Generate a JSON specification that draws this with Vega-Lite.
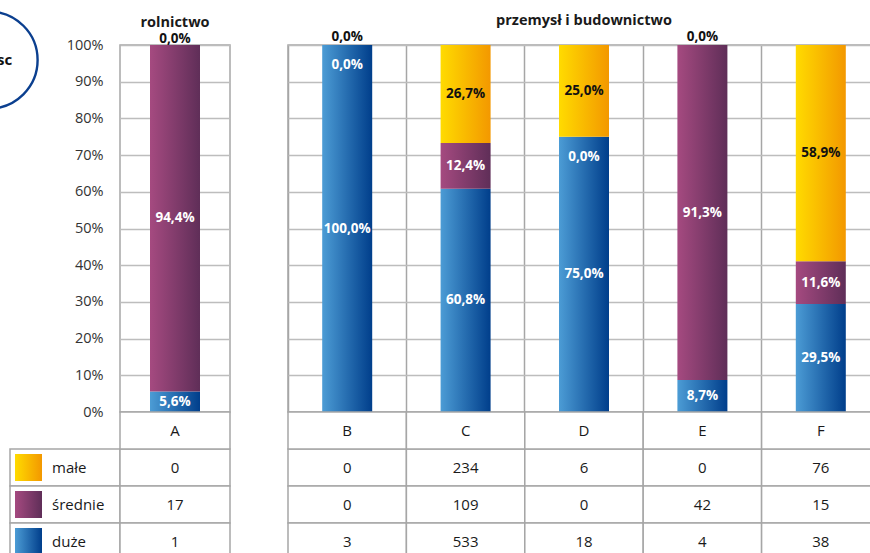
{
  "$schema": "https://vega.github.io/schema/vega-lite/v6.json",
  "autosize": {"type": "none"},
  "padding": {"left": 10, "top": 45, "right": 860, "bottom": 508},
  "background": "white",
  "config": {
    "view": {"stroke": null},
    "font": "Open Sans",
    "locale": {"number": {"decimal": ",", "thousands": " ", "grouping": [3], "currency": ["", " zł"]}}
  },
  "datasets": {
    "d": [
      {"cat": "A", "sector": "rolnictwo", "series": "małe", "n": 0},
      {"cat": "A", "sector": "rolnictwo", "series": "średnie", "n": 17},
      {"cat": "A", "sector": "rolnictwo", "series": "duże", "n": 1},
      {"cat": "B", "sector": "przemysł i budownictwo", "series": "małe", "n": 0},
      {"cat": "B", "sector": "przemysł i budownictwo", "series": "średnie", "n": 0},
      {"cat": "B", "sector": "przemysł i budownictwo", "series": "duże", "n": 3},
      {"cat": "C", "sector": "przemysł i budownictwo", "series": "małe", "n": 234},
      {"cat": "C", "sector": "przemysł i budownictwo", "series": "średnie", "n": 109},
      {"cat": "C", "sector": "przemysł i budownictwo", "series": "duże", "n": 533},
      {"cat": "D", "sector": "przemysł i budownictwo", "series": "małe", "n": 6},
      {"cat": "D", "sector": "przemysł i budownictwo", "series": "średnie", "n": 0},
      {"cat": "D", "sector": "przemysł i budownictwo", "series": "duże", "n": 18},
      {"cat": "E", "sector": "przemysł i budownictwo", "series": "małe", "n": 0},
      {"cat": "E", "sector": "przemysł i budownictwo", "series": "średnie", "n": 42},
      {"cat": "E", "sector": "przemysł i budownictwo", "series": "duże", "n": 4},
      {"cat": "F", "sector": "przemysł i budownictwo", "series": "małe", "n": 76},
      {"cat": "F", "sector": "przemysł i budownictwo", "series": "średnie", "n": 15},
      {"cat": "F", "sector": "przemysł i budownictwo", "series": "duże", "n": 38}
    ]
  },
  "columns": 4,
  "spacing": {"row": 0, "column": 0},
  "bounds": "flush",
  "align": "each",
  "concat": [
    {
      "width": 110,
      "height": 367,
      "data": {"values": [{"t": "sc"}]},
      "layer": [
        {
          "mark": {"type": "point", "shape": "circle", "size": 9409, "filled": false, "stroke": "#0b3f8f", "strokeWidth": 2.4, "opacity": 1},
          "encoding": {
            "x": {"datum": -0.19, "type": "quantitative", "scale": {"domain": [0, 1]}, "axis": null},
            "y": {"datum": 0.959, "type": "quantitative", "scale": {"domain": [0, 1]}, "axis": null}
          }
        },
        {
          "mark": {"type": "text", "align": "right", "baseline": "middle", "fontWeight": "bold", "fontSize": 15, "color": "#111111"},
          "encoding": {
            "x": {"datum": 0.02, "type": "quantitative"},
            "y": {"datum": 0.959, "type": "quantitative"},
            "text": {"field": "t"}
          }
        }
      ]
    },
    {
      "width": 110,
      "height": 367,
      "data": {"name": "d"},
      "view": {"stroke": "#a6a6a6", "strokeWidth": 1.5},
      "title": {"text": "rolnictwo", "frame": "group", "anchor": "middle", "offset": 2, "fontSize": 14.5, "fontWeight": "bold", "color": "#1a1a1a"},
      "transform": [
        {"filter": "datum.sector === 'rolnictwo'"},
        {"calculate": "indexof(['duże','średnie','małe'], datum.series)", "as": "ord"},
        {"stack": "n", "groupby": ["cat"], "sort": [{"field": "ord", "order": "ascending"}], "as": ["y0", "y1"], "offset": "normalize"},
        {"calculate": "(datum.y0 + datum.y1) / 2", "as": "ym"},
        {"calculate": "datum.y1 - datum.y0", "as": "pct"}
      ],
      "encoding": {
        "x": {"field": "cat", "type": "nominal", "scale": {"paddingInner": 0, "paddingOuter": 0}, "axis": null}
      },
      "layer": [
        {
          "transform": [{"filter": "datum.series === 'duże'"}],
          "mark": {"type": "bar", "width": 50, "stroke": null, "fill": {"gradient": "linear", "x1": 0, "x2": 1, "y1": 0, "y2": 0, "stops": [{"offset": 0, "color": "#4c9cd5"}, {"offset": 1, "color": "#003e8b"}]}},
          "encoding": {
            "y": {"field": "y0", "type": "quantitative", "scale": {"domain": [0, 1]}, "axis": {"values": [0, 0.1, 0.2, 0.3, 0.4, 0.5, 0.6, 0.7, 0.8, 0.9, 1], "tickCount": 20, "format": ".0%", "labelOverlap": false, "grid": true, "gridColor": "#bdbdbd", "gridWidth": 1.5, "ticks": false, "domain": false, "labelPadding": 17, "labelFontSize": 14.5, "labelColor": "#333333", "title": null}},
            "y2": {"field": "y1"}
          }
        },
        {
          "transform": [{"filter": "datum.series === 'średnie'"}],
          "mark": {"type": "bar", "width": 50, "stroke": null, "fill": {"gradient": "linear", "x1": 0, "x2": 1, "y1": 0, "y2": 0, "stops": [{"offset": 0, "color": "#a54a80"}, {"offset": 1, "color": "#5f2e58"}]}},
          "encoding": {"y": {"field": "y0", "type": "quantitative"}, "y2": {"field": "y1"}}
        },
        {
          "transform": [{"filter": "datum.series === 'małe'"}],
          "mark": {"type": "bar", "width": 50, "stroke": null, "fill": {"gradient": "linear", "x1": 0, "x2": 1, "y1": 0, "y2": 0, "stops": [{"offset": 0, "color": "#ffdb00"}, {"offset": 1, "color": "#f39800"}]}},
          "encoding": {"y": {"field": "y0", "type": "quantitative"}, "y2": {"field": "y1"}}
        },
        {
          "transform": [{"filter": "datum.pct > 0"}],
          "mark": {"type": "text", "fontWeight": "bold", "fontSize": 13.5, "baseline": "middle"},
          "encoding": {
            "y": {"field": "ym", "type": "quantitative"},
            "text": {"field": "pct", "type": "quantitative", "format": ".1%"},
            "color": {"condition": {"test": "datum.series === 'małe'", "value": "#111111"}, "value": "#ffffff"}
          }
        },
        {
          "transform": [{"filter": "datum.pct === 0 && datum.series === 'małe'"}],
          "mark": {"type": "text", "fontWeight": "bold", "fontSize": 13.5, "baseline": "middle", "dy": -6, "color": "#111111"},
          "encoding": {"y": {"field": "y1", "type": "quantitative"}, "text": {"field": "pct", "type": "quantitative", "format": ".1%"}}
        },
        {
          "transform": [{"filter": "datum.pct === 0 && datum.series === 'średnie'"}],
          "mark": {"type": "text", "fontWeight": "bold", "fontSize": 13.5, "baseline": "middle", "dy": 20, "color": "#ffffff"},
          "encoding": {"y": {"field": "y1", "type": "quantitative"}, "text": {"field": "pct", "type": "quantitative", "format": ".1%"}}
        }
      ]
    },
    {
      "width": 58,
      "height": 367,
      "data": {"values": [{"a": 1}]},
      "mark": {"type": "text", "text": ""}
    },
    {
      "width": 592,
      "height": 367,
      "data": {"name": "d"},
      "view": {"stroke": "#a6a6a6", "strokeWidth": 1.5},
      "title": {"text": "przemysł i budownictwo", "frame": "group", "anchor": "middle", "offset": 2, "fontSize": 14.5, "fontWeight": "bold", "color": "#1a1a1a"},
      "transform": [
        {"filter": "datum.sector !== 'rolnictwo'"},
        {"calculate": "indexof(['duże','średnie','małe'], datum.series)", "as": "ord"},
        {"stack": "n", "groupby": ["cat"], "sort": [{"field": "ord", "order": "ascending"}], "as": ["y0", "y1"], "offset": "normalize"},
        {"calculate": "(datum.y0 + datum.y1) / 2", "as": "ym"},
        {"calculate": "datum.y1 - datum.y0", "as": "pct"}
      ],
      "encoding": {
        "x": {"field": "cat", "type": "nominal", "scale": {"paddingInner": 0, "paddingOuter": 0}, "axis": {"grid": true, "bandPosition": 0, "labels": false, "ticks": false, "domain": false, "title": null, "gridColor": "#a6a6a6", "gridWidth": 1.5}}
      },
      "layer": [
        {
          "transform": [{"filter": "datum.series === 'duże'"}],
          "mark": {"type": "bar", "width": 50, "stroke": null, "fill": {"gradient": "linear", "x1": 0, "x2": 1, "y1": 0, "y2": 0, "stops": [{"offset": 0, "color": "#4c9cd5"}, {"offset": 1, "color": "#003e8b"}]}},
          "encoding": {
            "y": {"field": "y0", "type": "quantitative", "scale": {"domain": [0, 1]}, "axis": {"values": [0, 0.1, 0.2, 0.3, 0.4, 0.5, 0.6, 0.7, 0.8, 0.9, 1], "tickCount": 20, "grid": true, "gridColor": "#bdbdbd", "gridWidth": 1.5, "ticks": false, "domain": false, "labels": false, "title": null}},
            "y2": {"field": "y1"}
          }
        },
        {
          "transform": [{"filter": "datum.series === 'średnie'"}],
          "mark": {"type": "bar", "width": 50, "stroke": null, "fill": {"gradient": "linear", "x1": 0, "x2": 1, "y1": 0, "y2": 0, "stops": [{"offset": 0, "color": "#a54a80"}, {"offset": 1, "color": "#5f2e58"}]}},
          "encoding": {"y": {"field": "y0", "type": "quantitative"}, "y2": {"field": "y1"}}
        },
        {
          "transform": [{"filter": "datum.series === 'małe'"}],
          "mark": {"type": "bar", "width": 50, "stroke": null, "fill": {"gradient": "linear", "x1": 0, "x2": 1, "y1": 0, "y2": 0, "stops": [{"offset": 0, "color": "#ffdb00"}, {"offset": 1, "color": "#f39800"}]}},
          "encoding": {"y": {"field": "y0", "type": "quantitative"}, "y2": {"field": "y1"}}
        },
        {
          "transform": [{"filter": "datum.pct > 0"}],
          "mark": {"type": "text", "fontWeight": "bold", "fontSize": 13.5, "baseline": "middle"},
          "encoding": {
            "y": {"field": "ym", "type": "quantitative"},
            "text": {"field": "pct", "type": "quantitative", "format": ".1%"},
            "color": {"condition": {"test": "datum.series === 'małe'", "value": "#111111"}, "value": "#ffffff"}
          }
        },
        {
          "transform": [{"filter": "datum.pct === 0 && datum.series === 'małe'"}],
          "mark": {"type": "text", "fontWeight": "bold", "fontSize": 13.5, "baseline": "middle", "dy": -8, "color": "#111111"},
          "encoding": {"y": {"field": "y1", "type": "quantitative"}, "text": {"field": "pct", "type": "quantitative", "format": ".1%"}}
        },
        {
          "transform": [{"filter": "datum.pct === 0 && datum.series === 'średnie'"}],
          "mark": {"type": "text", "fontWeight": "bold", "fontSize": 13.5, "baseline": "middle", "dy": 20, "color": "#ffffff"},
          "encoding": {"y": {"field": "y1", "type": "quantitative"}, "text": {"field": "pct", "type": "quantitative", "format": ".1%"}}
        }
      ]
    },
    {
      "width": 110,
      "height": 148,
      "data": {"name": "d"},
      "transform": [{"filter": "datum.cat === 'A'"}],
      "layer": [
        {
          "mark": {"type": "rect", "fill": "white", "stroke": "#a6a6a6", "strokeWidth": 1.5},
          "encoding": {"y": {"field": "series", "type": "nominal", "scale": {"domain": ["kat", "małe", "średnie", "duże"], "paddingInner": 0, "paddingOuter": 0}, "axis": null}}
        },
        {
          "transform": [{"filter": "datum.series === 'małe'"}],
          "mark": {"type": "point", "shape": "square", "size": 729, "filled": true, "opacity": 1, "stroke": null, "fill": {"gradient": "linear", "x1": 0, "x2": 1, "y1": 0, "y2": 0, "stops": [{"offset": 0, "color": "#ffdb00"}, {"offset": 1, "color": "#f39800"}]}},
          "encoding": {"x": {"datum": 0.168, "type": "quantitative", "scale": {"domain": [0, 1]}, "axis": null}, "y": {"field": "series", "type": "nominal"}}
        },
        {
          "transform": [{"filter": "datum.series === 'średnie'"}],
          "mark": {"type": "point", "shape": "square", "size": 729, "filled": true, "opacity": 1, "stroke": null, "fill": {"gradient": "linear", "x1": 0, "x2": 1, "y1": 0, "y2": 0, "stops": [{"offset": 0, "color": "#a54a80"}, {"offset": 1, "color": "#5f2e58"}]}},
          "encoding": {"x": {"datum": 0.168, "type": "quantitative"}, "y": {"field": "series", "type": "nominal"}}
        },
        {
          "transform": [{"filter": "datum.series === 'duże'"}],
          "mark": {"type": "point", "shape": "square", "size": 729, "filled": true, "opacity": 1, "stroke": null, "fill": {"gradient": "linear", "x1": 0, "x2": 1, "y1": 0, "y2": 0, "stops": [{"offset": 0, "color": "#4c9cd5"}, {"offset": 1, "color": "#003e8b"}]}},
          "encoding": {"x": {"datum": 0.168, "type": "quantitative"}, "y": {"field": "series", "type": "nominal"}}
        },
        {
          "mark": {"type": "text", "align": "left", "baseline": "middle", "fontSize": 15, "color": "#1a1a1a"},
          "encoding": {"x": {"datum": 0.382, "type": "quantitative"}, "y": {"field": "series", "type": "nominal"}, "text": {"field": "series"}}
        }
      ]
    },
    {
      "width": 110,
      "height": 148,
      "data": {"name": "d"},
      "transform": [{"filter": "datum.sector === 'rolnictwo'"}],
      "encoding": {"x": {"field": "cat", "type": "nominal", "scale": {"paddingInner": 0, "paddingOuter": 0}, "axis": null}},
      "layer": [
        {
          "mark": {"type": "rect", "fill": "white", "stroke": "#a6a6a6", "strokeWidth": 1.5},
          "encoding": {"y": {"field": "series", "type": "nominal", "scale": {"domain": ["kat", "małe", "średnie", "duże"], "paddingInner": 0, "paddingOuter": 0}, "axis": null}}
        },
        {
          "transform": [{"filter": "datum.series === 'duże'"}],
          "mark": {"type": "rect", "fill": "white", "stroke": "#a6a6a6", "strokeWidth": 1.5},
          "encoding": {"y": {"datum": "kat", "type": "nominal"}}
        },
        {
          "mark": {"type": "text", "baseline": "middle", "fontSize": 15, "color": "#1a1a1a"},
          "encoding": {"y": {"field": "series", "type": "nominal"}, "text": {"field": "n", "type": "quantitative"}}
        },
        {
          "transform": [{"filter": "datum.series === 'duże'"}],
          "mark": {"type": "text", "baseline": "middle", "fontSize": 15, "color": "#1a1a1a"},
          "encoding": {"y": {"datum": "kat", "type": "nominal"}, "text": {"field": "cat"}}
        }
      ]
    },
    {
      "width": 58,
      "height": 148,
      "data": {"values": [{"a": 1}]},
      "mark": {"type": "text", "text": ""}
    },
    {
      "width": 592,
      "height": 148,
      "data": {"name": "d"},
      "transform": [{"filter": "datum.sector !== 'rolnictwo'"}],
      "encoding": {"x": {"field": "cat", "type": "nominal", "scale": {"paddingInner": 0, "paddingOuter": 0}, "axis": null}},
      "layer": [
        {
          "mark": {"type": "rect", "fill": "white", "stroke": "#a6a6a6", "strokeWidth": 1.5},
          "encoding": {"y": {"field": "series", "type": "nominal", "scale": {"domain": ["kat", "małe", "średnie", "duże"], "paddingInner": 0, "paddingOuter": 0}, "axis": null}}
        },
        {
          "transform": [{"filter": "datum.series === 'duże'"}],
          "mark": {"type": "rect", "fill": "white", "stroke": "#a6a6a6", "strokeWidth": 1.5},
          "encoding": {"y": {"datum": "kat", "type": "nominal"}}
        },
        {
          "mark": {"type": "text", "baseline": "middle", "fontSize": 15, "color": "#1a1a1a"},
          "encoding": {"y": {"field": "series", "type": "nominal"}, "text": {"field": "n", "type": "quantitative"}}
        },
        {
          "transform": [{"filter": "datum.series === 'duże'"}],
          "mark": {"type": "text", "baseline": "middle", "fontSize": 15, "color": "#1a1a1a"},
          "encoding": {"y": {"datum": "kat", "type": "nominal"}, "text": {"field": "cat"}}
        }
      ]
    }
  ]
}
